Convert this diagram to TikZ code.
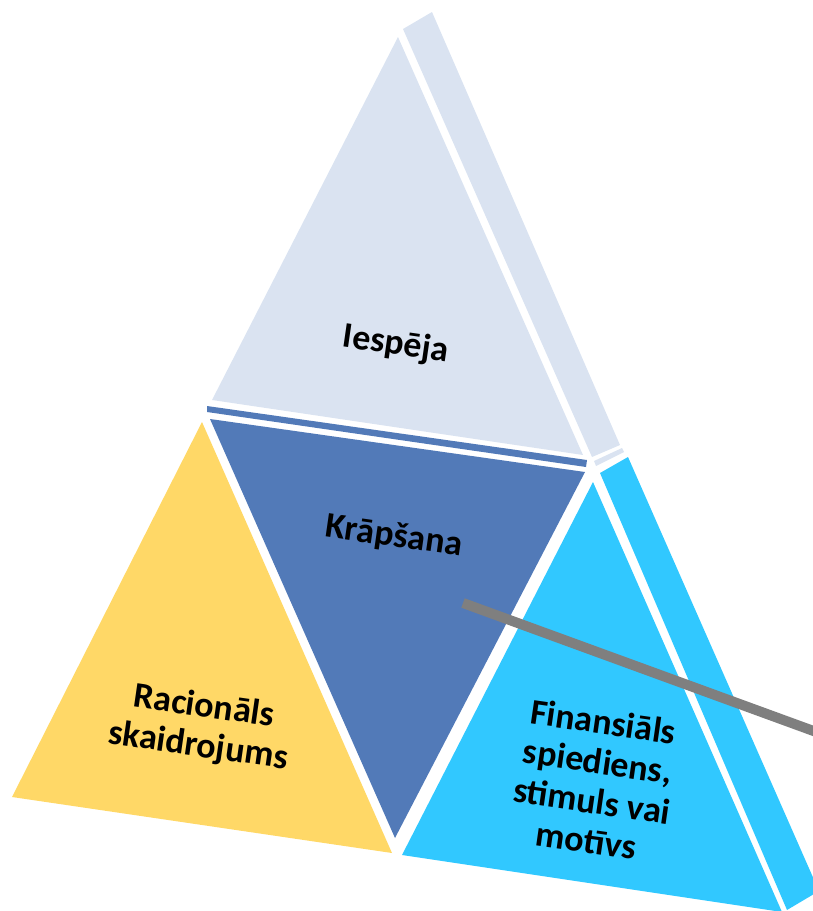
\documentclass[tikz,border=0pt]{standalone}
\usepackage{fontspec}
\setmainfont{Carlito}
\definecolor{paleblue}{HTML}{DAE3F1}
\definecolor{midblue}{HTML}{527AB8}
\definecolor{gold}{HTML}{FFD867}
\definecolor{sky}{HTML}{31C8FF}
\definecolor{pointergray}{HTML}{7F7F7F}
\begin{document}
\begin{tikzpicture}[
    x=0.5pt, y=-0.5pt,
    upper/.style={fill=paleblue},
    centre/.style={fill=midblue},
    left/.style={fill=gold},
    right/.style={fill=sky},
    lbl/.style={
        font=\fontsize{18}{20}\selectfont\bfseries,
        align=center, rotate=-8.2, inner sep=0pt
    },
    pointer/.style={draw=pointergray, line width=5pt}
]
\useasboundingbox (0,0) rectangle (813,911);
\clip (0,0) rectangle (813,911);

% --- Top triangle (face + side) ---
\fill[upper] (398,37) -- (583,455) -- (212,400) -- cycle;
\fill[upper] (403,29) -- (432,12) -- (620,445) -- (592,457) -- cycle;
\fill[upper] (594,461) -- (622,448) -- (624,452) -- (596,466) -- cycle;

% --- Middle triangle (upside down) ---
\fill[centre] (207,406) -- (587,460) -- (586,467) -- (207,412) -- cycle;
\fill[centre] (210,419) -- (585,472) -- (395,838) -- cycle;

% --- Left triangle ---
\fill[left] (202,422) -- (392,853) -- (12,797) -- cycle;

% --- Right triangle (face + side) ---
\fill[right] (593,482) -- (782,912) -- (402,855) -- cycle;
\fill[right] (600,473) -- (628,457) -- (819,891) -- (787,910) -- cycle;

% --- Pointer ---
\coordinate (tail) at (463,603);
\coordinate (tip) at (830,737);
\draw[pointer] (tail) -- (tip);

% --- Labels ---
\node[lbl] (chance) at (396,345) {Iespēja};
\node[lbl] (fraud) at (394,537) {Krāpšana};
\node[lbl] (reason) at (201,727) {Racionāls\\skaidrojums};
\node[lbl] (motive) at (595,781) {Finansiāls\\spiediens,\\stimuls vai\\motīvs};

\end{tikzpicture}
\end{document}
